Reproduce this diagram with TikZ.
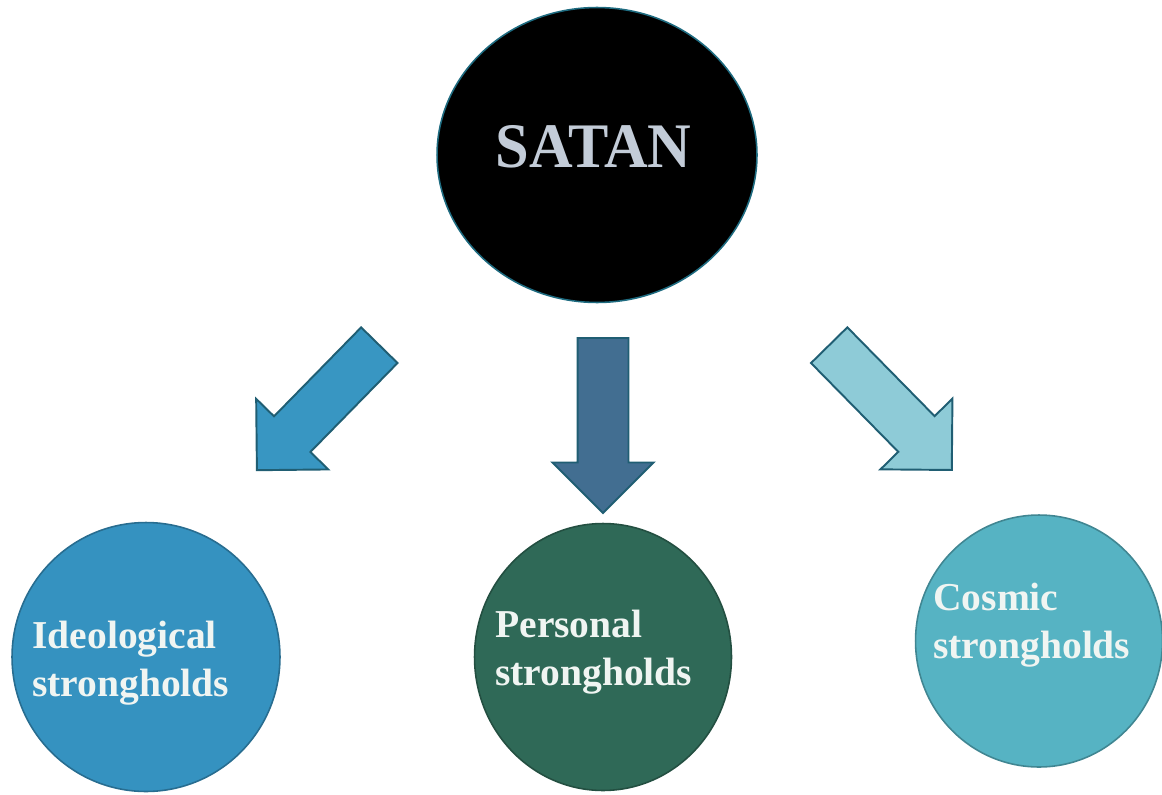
\documentclass[tikz,border=0pt]{standalone}
\usepackage{fontspec}
\setmainfont{Liberation Serif}
\usetikzlibrary{shapes.geometric,shapes.arrows}

\definecolor{satanline}{HTML}{1E6B80}
\definecolor{satantext}{HTML}{C3CCD8}
\definecolor{ideofill}{HTML}{3592C0}
\definecolor{persfill}{HTML}{2F6957}
\definecolor{cosmfill}{HTML}{56B3C3}
\definecolor{ideoarrow}{HTML}{3896C2}
\definecolor{persarrow}{HTML}{426E91}
\definecolor{cosmarrow}{HTML}{8ECBD7}
\definecolor{arrowline}{HTML}{205E73}
\definecolor{discname}{HTML}{F0F5F2}

\begin{document}
\begin{tikzpicture}[x=0.02cm, y=-0.02cm,
  disc/.style = {ellipse, draw=#1!75!black, fill=#1, line width=0.9pt,
    inner sep=0pt},
  blockarrow/.style = {single arrow, draw=arrowline, fill=#1, line width=1.1pt,
    inner sep=0.49cm, single arrow head extend=0.5cm,
    single arrow tip angle=90, minimum height=3.5cm, anchor=tail},
  disctext/.style = {anchor=west, align=left, inner sep=0pt,
    text=discname, font=\fontsize{22.5pt}{27.3pt}\selectfont\bfseries}]
  \useasboundingbox (0,0) rectangle (1162,794);

  % top
  \node[disc=black, draw=satanline, minimum width=6.4cm, minimum height=5.9cm]
    (satan) at (597,155) {};
  \node[anchor=base, inner sep=0pt, yscale=1.05, text=satantext,
    font=\fontsize{34.4pt}{38pt}\selectfont\bfseries] (satan-txt) at (593.5,167) {SATAN};

  % arrows
  \node[blockarrow=ideoarrow, rotate=-134.4] (arr-ideo) at (380,344.5) {};
  \node[blockarrow=persarrow, rotate=-90] (arr-pers) at (603,337) {};
  \node[blockarrow=cosmarrow, rotate=-45.5] (arr-cosm) at (828.5,344.5) {};

  % strongholds
  \node[disc=ideofill, minimum width=5.36cm, minimum height=5.38cm] (ideo) at (146,657) {};
  \node[disc=persfill, minimum width=5.14cm, minimum height=5.34cm] (pers) at (603,657) {};
  \node[disc=cosmfill, minimum width=4.94cm, minimum height=5.04cm] (cosm) at (1039,641) {};

  \node[disctext] (ideo-txt) at (32,663.4) {Ideological\\strongholds};
  \node[disctext] (pers-txt) at (495,651.9) {Personal\\strongholds};
  \node[disctext] (cosm-txt) at (933,624.8) {Cosmic\\strongholds};
\end{tikzpicture}
\end{document}
